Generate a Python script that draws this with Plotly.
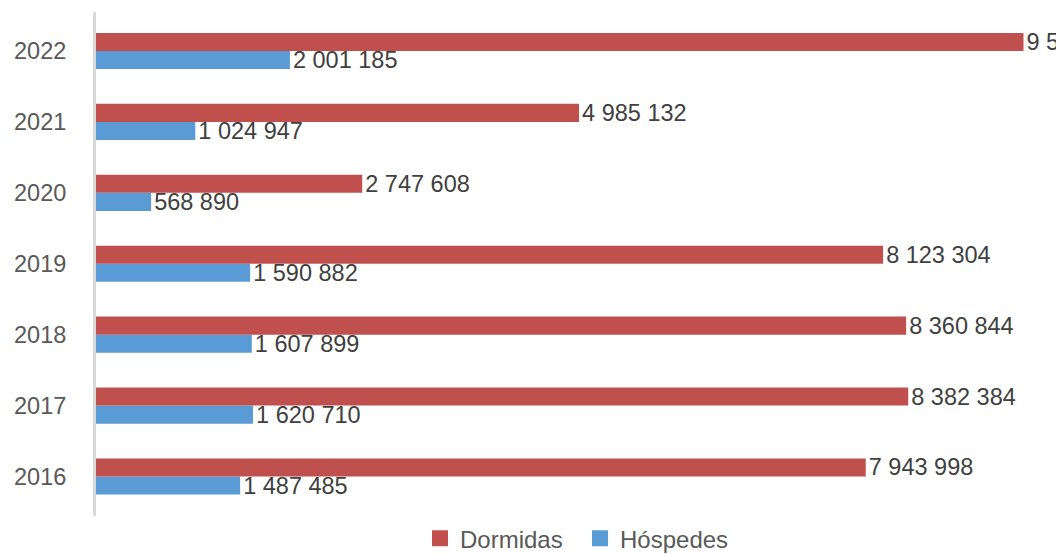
import plotly.graph_objects as go

years = ["2016", "2017", "2018", "2019", "2020", "2021", "2022"]
dormidas = [7943998, 8382384, 8360844, 8123304, 2747608, 4985132, 9572000]
hospedes = [1487485, 1620710, 1607899, 1590882, 568890, 1024947, 2001185]

RED = "#C0504D"
BLUE = "#5B9BD5"
FONT = "Liberation Sans, Arial, Helvetica, sans-serif"


def fmt(v):
    return f"{v:,}".replace(",", " ")


fig = go.Figure()
fig.add_trace(go.Bar(
    y=years, x=hospedes, orientation="h", name="Hóspedes",
    marker=dict(color=BLUE, line=dict(width=0)),
    text=[fmt(v) for v in hospedes], textposition="outside",
    textfont=dict(size=23.5, color="#404040", family=FONT),
    cliponaxis=False, constraintext="none", showlegend=False,
))
fig.add_trace(go.Bar(
    y=years, x=dormidas, orientation="h", name="Dormidas",
    marker=dict(color=RED, line=dict(width=0)),
    text=[fmt(v) for v in dormidas], textposition="outside",
    textfont=dict(size=23.5, color="#404040", family=FONT),
    cliponaxis=False, constraintext="none", showlegend=False,
))
# legend entries with larger square symbols
fig.add_trace(go.Scatter(x=[None], y=[None], mode="markers", name="Dormidas",
                         marker=dict(symbol="square", size=17, color=RED)))
fig.add_trace(go.Scatter(x=[None], y=[None], mode="markers", name="Hóspedes",
                         marker=dict(symbol="square", size=17, color=BLUE)))

fig.update_layout(
    width=1056, height=546,
    margin=dict(l=88, r=0, t=4, b=36),
    paper_bgcolor="white", plot_bgcolor="white",
    barmode="group", bargap=0.49, bargroupgap=0,
    font=dict(family=FONT, size=23, color="#595959"),
    showlegend=True,
    legend=dict(orientation="h", x=0.5, xanchor="center",
                yref="container", y=0.028, yanchor="middle",
                font=dict(size=24, color="#595959"),
                entrywidth=115, entrywidthmode="pixels",
                itemsizing="trace", tracegroupgap=0),
    xaxis=dict(range=[0, 9990000], visible=False, showgrid=False, zeroline=False),
    yaxis=dict(type="category", categoryorder="array", categoryarray=years,
               range=[-0.56, 6.55], showline=True, linecolor="#d9d9d9",
               linewidth=3, ticks="", showgrid=False, zeroline=False,
               ticklabelstandoff=22,
               tickfont=dict(size=23.5, color="#595959", family=FONT)),
)

fig.write_html("out.html")
